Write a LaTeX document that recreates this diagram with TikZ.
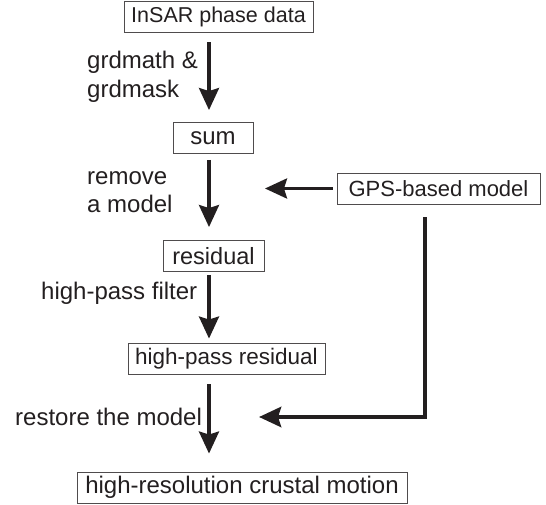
\documentclass[tikz,border=0pt]{standalone}
\usepackage{fontspec}
\setmainfont{Liberation Sans}
\usetikzlibrary{arrows.meta}
\definecolor{ink}{RGB}{35,31,32}
\begin{document}
\begin{tikzpicture}[x=1pt,y=-1pt,
  box/.style={draw=ink!80, line width=0.9pt, text=ink, inner xsep=4pt, inner ysep=0pt,
              minimum height=31pt, font=\fontsize{22}{27}\selectfont},
  lbl/.style={text=ink, anchor=west, align=left, inner sep=0pt,
              font=\fontsize{24}{28.5}\selectfont},
  tip/.style={-{Stealth[length=22pt,width=20pt,inset=3pt]}},
  arr/.style={draw=ink, line width=3.3pt, tip},
  elbow/.style={draw=ink, line width=4.3pt, line join=miter, tip},
]
\useasboundingbox (0,0) rectangle (546,505);

% processing chain
\node[box, minimum width=189pt, font=\fontsize{21.5}{27}\selectfont] (insar) at (218.5,16.5) {InSAR phase data};
\node[box, minimum width=80pt, font=\fontsize{24}{28}\selectfont]  (sum)   at (213,138)    {sum};
\node[box, minimum width=101pt, font=\fontsize{23.5}{28}\selectfont] (resid) at (213.5,256)  {residual};
\node[box, minimum width=197pt, font=\fontsize{22.5}{28}\selectfont] (hpres) at (226.5,358.5){high-pass residual};
\node[box, minimum width=330pt, font=\fontsize{24}{28}\selectfont] (final) at (242,487.5) {high-resolution crustal motion};
\node[box, minimum width=203pt] (gps)   at (438.5,188.5){GPS-based model};

% columns carrying the arrows
\coordinate (col)  at (209,0);
\coordinate (side) at (425,0);
\coordinate (gpsin) at (265,188.5);
\coordinate (restorein) at (259,417);

% step labels
\node[lbl] (l1) at (87,77)   {grdmath \&\\grdmask};
\node[lbl] (l2) at (87,192)  {remove\\a model};
\node[lbl] (l3) at (41,293)  {high-pass filter};
\node[lbl] (l4) at (15,417)  {restore the model};

% arrows of the main chain
\draw[arr, shorten <=10pt, shorten >=12pt] (insar.south -| col) -- (sum.north -| col);
\draw[arr, shorten <=6pt,  shorten >=13pt] (sum.south -| col)   -- (resid.north -| col);
\draw[arr, shorten <=3pt,  shorten >=4pt]  (resid.south -| col) -- (hpres.north -| col);
\draw[arr, shorten <=10pt, shorten >=18pt] (hpres.south -| col) -- (final.north -| col);

% model removed and restored
\draw[arr, shorten <=4pt] (gps.west) -- (gpsin);
\draw[elbow, shorten <=13pt] (gps.south -| side) |- (restorein);
\end{tikzpicture}
\end{document}
